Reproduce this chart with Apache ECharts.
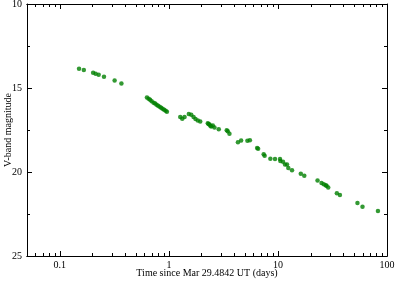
<!DOCTYPE html>
<html>
<head>
<meta charset="utf-8">
<script src="https://cdn.jsdelivr.net/npm/echarts@6/dist/echarts.min.js"></script>
<style>
html, body { margin: 0; padding: 0; background: #fff; }
#chart { width: 396px; height: 281px; }
</style>
</head>
<body>
<div id="chart"></div>
<script>
// days since Mar 29.4842 UT
var days = [0.150, 0.166, 0.202, 0.213, 0.227, 0.254, 0.318, 0.367,
    0.629, 0.652, 0.673, 0.695, 0.724, 0.748, 0.771, 0.796, 0.822, 0.849, 0.875, 0.904, 0.933, 0.959,
    1.271, 1.326, 1.392, 1.524, 1.603, 1.683, 1.755, 1.841, 1.938,
    2.274, 2.31, 2.357, 2.40, 2.443, 2.527, 2.619, 2.866, 3.393, 3.466, 3.592,
    4.297, 4.596, 5.248, 5.53, 6.44, 6.58, 7.40, 7.55, 8.52, 9.40, 10.45, 10.52, 11.13, 11.61, 12.11, 12.45, 13.46,
    16.20, 17.44, 23.07, 25.1, 26.3, 27.4, 27.9, 28.9, 34.7, 37.0, 53.6, 59.6, 82.6];
var vmag = [13.85, 13.93, 14.09, 14.15, 14.21, 14.33, 14.55, 14.73,
    15.56, 15.64, 15.70, 15.79, 15.875, 15.93, 15.99, 16.05, 16.11, 16.17, 16.23, 16.29, 16.35, 16.41,
    16.73, 16.83, 16.73, 16.55, 16.59, 16.73, 16.85, 16.93, 16.99,
    17.10, 17.15, 17.18, 17.24, 17.29, 17.23, 17.35, 17.46, 17.51, 17.58, 17.72,
    18.23, 18.12, 18.14, 18.11, 18.57, 18.61, 18.95, 19.03, 19.21, 19.23, 19.23, 19.35, 19.39, 19.55, 19.55, 19.76, 19.89,
    20.10, 20.23, 20.50, 20.65, 20.73, 20.79, 20.82, 20.93, 21.27, 21.37, 21.85, 22.07, 22.32];
var majorX = [0.1, 1, 10, 100];
var minorX = [0.06, 0.07, 0.08, 0.09, 0.2, 0.3, 0.4, 0.5, 0.6, 0.7, 0.8, 0.9,
    2, 3, 4, 5, 6, 7, 8, 9, 20, 30, 40, 50, 60, 70, 80, 90];

var points = days.map(function(d, i){ return [d, vmag[i]]; });
var font = 'Liberation Serif';

var xAxisTemplate = function(position, ticks, len, showLabel){
    return {
        type: 'log', logBase: 10, position: position,
        min: 0.05, max: 100,
        axisLine: { show: true, lineStyle: { color: '#000', width: 1 } },
        axisTick: { show: true, inside: true, length: len, customValues: ticks, lineStyle: { color: '#000' } },
        axisLabel: { show: showLabel, customValues: majorX, color: '#000', fontFamily: font, fontSize: 10, margin: 4,
            formatter: function(v){ return String(v); } },
        splitLine: { show: false },
        minorTick: { show: false }
    };
};

var yAxisTemplate = function(position, showLabel){
    return {
        type: 'value', position: position, inverse: true,
        min: 10, max: 25, interval: 5,
        axisLine: { show: true, lineStyle: { color: '#000', width: 1 } },
        axisTick: { show: true, inside: true, length: 5, lineStyle: { color: '#000' } },
        minorTick: { show: true, splitNumber: 2, length: 3, lineStyle: { color: '#000' } },
        axisLabel: { show: showLabel, color: '#000', fontFamily: font, fontSize: 10, margin: 5 },
        splitLine: { show: false }
    };
};

var bottomMajor = xAxisTemplate('bottom', majorX, 5, true);
bottomMajor.name = 'Time since Mar 29.4842 UT (days)';
bottomMajor.nameLocation = 'middle';
bottomMajor.nameGap = 12;
bottomMajor.nameMoveOverlap = false;
bottomMajor.nameTextStyle = { color: '#000', fontFamily: font, fontSize: 10 };

var leftAxis = yAxisTemplate('left', true);
leftAxis.name = 'V-band magnitude';
leftAxis.nameLocation = 'middle';
leftAxis.nameGap = 14;
leftAxis.nameMoveOverlap = false;
leftAxis.nameTextStyle = { color: '#000', fontFamily: font, fontSize: 10 };

var chart = echarts.init(document.getElementById('chart'));
chart.setOption({
    animation: false,
    backgroundColor: '#fff',
    grid: { left: 27, right: 9, top: 4, bottom: 25, containLabel: false, outerBoundsMode: 'none' },
    xAxis: [
        bottomMajor,
        xAxisTemplate('bottom', minorX, 3, false),
        xAxisTemplate('top', majorX, 5, false),
        xAxisTemplate('top', minorX, 3, false)
    ],
    yAxis: [leftAxis, yAxisTemplate('right', false)],
    series: [{
        type: 'scatter',
        xAxisIndex: 0, yAxisIndex: 0,
        symbol: 'circle', symbolSize: 4.5,
        itemStyle: { color: '#008000' },
        data: points
    }]
});
</script>
</body>
</html>
